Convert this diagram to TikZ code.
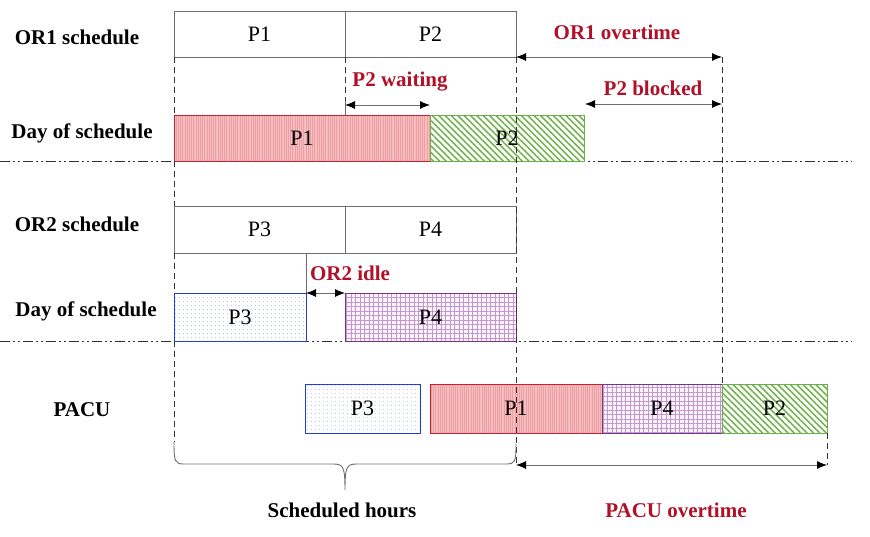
\documentclass[tikz,border=0pt]{standalone}
\usepackage{fontspec}
\setmainfont{Liberation Serif}
\usetikzlibrary{arrows.meta,patterns.meta,calc}
\definecolor{lbl}{RGB}{176,16,40}
\definecolor{boxgray}{RGB}{110,110,110}
\definecolor{redb}{RGB}{200,30,45}
\definecolor{redf}{RGB}{246,190,192}
\definecolor{redl}{RGB}{236,160,164}
\definecolor{greenb}{RGB}{105,175,70}
\definecolor{greenl}{RGB}{115,180,80}
\definecolor{blueb}{RGB}{35,60,220}
\definecolor{bluel}{RGB}{120,140,230}
\definecolor{purpb}{RGB}{115,55,135}
\definecolor{purpl}{RGB}{195,150,205}
\definecolor{purpf}{RGB}{250,243,250}
\begin{document}
\begin{tikzpicture}[x=1pt,y=-1pt,
  ptext/.style={font=\fontsize{22}{24}\selectfont},
  sched/.style={draw=boxgray, line width=0.8pt, inner sep=0pt, outer sep=0pt, ptext, minimum width=171pt, minimum height=46pt},
  bar/.style={line width=1pt, inner sep=0pt, outer sep=0pt, ptext},
  redbar/.style={bar, draw=redb, preaction={fill=redf}, pattern={Lines[angle=90,distance=2.2pt,line width=0.4pt]}, pattern color=redl},
  greenbar/.style={bar, draw=greenb, pattern={Lines[angle=-45,distance=4.5pt,line width=1.6pt]}, pattern color=greenl},
  bluebar/.style={bar, draw=blueb, pattern={Dots[distance=4pt,radius=0.45pt]}, pattern color=bluel},
  purpbar/.style={bar, draw=purpb, preaction={fill=purpf}, pattern={Hatch[angle=0,distance=4.5pt,line width=0.5pt]}, pattern color=purpl},
  rowlbl/.style={font=\bfseries\fontsize{21}{24}\selectfont},
  redlbl/.style={font=\bfseries\fontsize{21}{24}\selectfont, text=lbl},
  dim/.style={draw=boxgray, line width=0.8pt, {Latex[length=10pt,width=8pt,color=black]}-{Latex[length=10pt,width=8pt,color=black]}},
  vdash/.style={draw=black!80, line width=1pt, dash pattern=on 6pt off 4pt},
  ddot/.style={draw=black!80, line width=1pt, dash pattern=on 10pt off 3pt on 2pt off 3pt on 2pt off 3pt}
]
\useasboundingbox (0,0) rectangle (870,536);

% separator lines
\coordinate (sepAl) at (0,161);
\coordinate (sepAr) at (852,161);
\coordinate (sepBl) at (0,341);
\coordinate (sepBr) at (852,341);
\draw[ddot] (sepAl) -- (sepAr);
\draw[ddot] (sepBl) -- (sepBr);

% row labels
\node[rowlbl] (l1) at (77,37) {OR1 schedule};
\node[rowlbl] (l2) at (82,133) {Day of schedule};
\node[rowlbl] (l3) at (77,224) {OR2 schedule};
\node[rowlbl] (l4) at (86,311) {Day of schedule};
\node[rowlbl] (l5) at (82,410) {PACU};

% schedules
\node[sched] (s1) at (259.5,34) {P1};
\node[sched] (s2) at (430.5,34) {P2};
\node[sched, minimum height=47pt] (s3) at (259.5,229.5) {P3};
\node[sched, minimum height=47pt] (s4) at (430.5,229.5) {P4};

% day of schedule bars
\node[redbar, minimum width=256pt, minimum height=46pt] (d1) at (302,138) {P1};
\node[greenbar, minimum width=154pt, minimum height=46pt] (d2) at (507,138) {P2};
\node[bluebar, minimum width=132pt, minimum height=48pt] (d3) at (240,317) {P3};
\node[purpbar, minimum width=171pt, minimum height=48pt] (d4) at (430.5,317) {P4};

% PACU bars
\node[bluebar, minimum width=115pt, minimum height=49pt] (p3) at (362.5,408.5) {P3};
\node[redbar, minimum width=172pt, minimum height=49pt] (p1) at (516,408.5) {P1};
\node[purpbar, minimum width=120pt, minimum height=49pt] (p4) at (662,408.5) {P4};
\node[greenbar, minimum width=105pt, minimum height=49pt] (p2) at (774.5,408.5) {P2};

% coordinates
\coordinate (a1) at (174,115);
\coordinate (a2) at (174,206);
\coordinate (a3) at (174,253);
\coordinate (a4) at (174,293);
\coordinate (a5) at (174,341);
\coordinate (bl) at (174,442);
\coordinate (br) at (516,465);
\coordinate (wt) at (345,101);
\coordinate (wb) at (345,105);
\coordinate (we) at (430,105);
\coordinate (ot) at (722,57);
\coordinate (pb1) at (585,104);
\coordinate (pb2) at (722,104);
\coordinate (it) at (306,253);
\coordinate (ib) at (306,293);
\coordinate (ie) at (345,293);
\coordinate (pe) at (827,465);

% dashed verticals
\draw[vdash] (s1.south west) -- (a1);
\draw[vdash] (a1 |- d1.south) -- (a2);
\draw[vdash] (a3) -- (a4);
\draw[vdash] (a5) -- (bl);
\draw[vdash] (s2.south east) -- (br);
\draw[vdash] (s2.south west) -- (wt);
\draw[boxgray, line width=0.8pt] (wt) -- (d1.north west -| wt);
\draw[vdash] (ot) -- (p4.north east);
\draw[vdash] (p2.south east) -- (pe);
\draw[boxgray, line width=0.8pt] (it) -- (ib);

% dimension arrows
\draw[dim] (wb) -- (we);
\draw[dim] (s2.south east) -- (ot);
\draw[dim] (pb1) -- (pb2);
\draw[dim] (ib) -- (ie);
\draw[dim] (br) -- (pe);

% brace
\draw[boxgray, line width=0.9pt] (bl) .. controls (174,462) and (175,464) .. (184,464) -- (333,464) .. controls (343,464) and (345,466) .. (345,490) .. controls (345,466) and (347,464) .. (357,464) -- (506,464) .. controls (515,464) and (516,462) .. (516,444);

% red labels
\node[redlbl] (r1) at (617,32) {OR1 overtime};
\node[redlbl] (r2) at (400,82) {P2 waiting};
\node[redlbl] (r3) at (653,88) {P2 blocked};
\node[redlbl] (r4) at (350,273) {OR2 idle};
\node[redlbl] (r5) at (676,510) {PACU overtime};
\node[rowlbl] (sh) at (342,510) {Scheduled hours};
\end{tikzpicture}
\end{document}
